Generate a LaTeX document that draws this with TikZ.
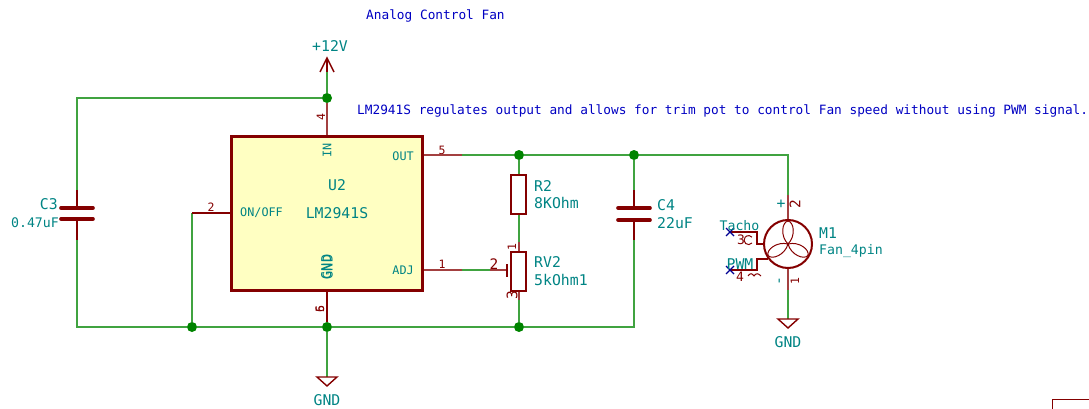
\documentclass[tikz,border=0pt]{standalone}
\usepackage{fontspec}
\setmainfont{DejaVu Sans Mono}
\usetikzlibrary{positioning}
\definecolor{wirecol}{HTML}{008400}
\definecolor{partcol}{HTML}{840000}
\definecolor{labelcol}{HTML}{008484}
\definecolor{notecol}{HTML}{0000C2}
\definecolor{bodycol}{HTML}{FFFFC2}
\tikzset{
    wire/.style = {draw=wirecol!75!white, line width=1.4pt},
    pin/.style = {draw=partcol!75!white, line width=1.4pt},
    part/.style = {draw=partcol, line width=2pt},
    dot/.style = {circle, fill=wirecol, inner sep=0pt, minimum size=10pt},
    label/.style = {text=labelcol, inner sep=0pt, font=\fontsize{14.8}{16}\selectfont},
    labelb/.style = {text=labelcol, inner sep=0pt, font=\fontsize{13.2}{15}\selectfont},
    pinname/.style = {text=labelcol, inner sep=0pt, font=\fontsize{11.8}{13}\selectfont},
    pinnum/.style = {text=partcol, inner sep=0pt, font=\fontsize{11.5}{13}\selectfont},
    pinnumb/.style = {text=partcol, inner sep=0pt, font=\fontsize{14.5}{16}\selectfont},
    note/.style = {text=notecol, inner sep=0pt, font=\fontsize{12.78}{14}\selectfont},
    plate/.style = {draw=partcol, line width=3.6pt, line cap=round},
    nc/.style = {draw=notecol!75!black, line width=1.2pt},
}
\begin{document}
\begin{tikzpicture}[x=1pt, y=-1pt]
    \useasboundingbox (0,0) rectangle (1089,409);

    % regulator
    \node (U2) at (326.5,213.5) [draw=partcol, line width=3pt, fill=bodycol, inner sep=0pt,
        minimum width=191pt, minimum height=153pt] {};
    \node (U2ref) at (337,185) [label] {U2};
    \node (U2val) at (337,213) [label] {LM2941S};
    \node (pinIN) at (327,150) [pinname, rotate=90] {IN};
    \node (pinOUT) at (414,156) [pinname, anchor=east] {OUT};
    \node (pinEN) at (240,213) [pinname, anchor=west] {ON/OFF};
    \node (pinADJ) at (414,270) [pinname, anchor=east] {ADJ};
    \node (pinGNDa) at (326.2,267) [pinname, rotate=90, font=\fontsize{13.5}{15}\selectfont] {GND};
    \node (pinGNDb) at (327.8,267) [pinname, rotate=90, font=\fontsize{13.5}{15}\selectfont] {GND};
    \node (num4) at (321,117) [pinnum, rotate=90] {4};
    \node (num5) at (442,150) [pinnum] {5};
    \node (num2) at (211,207) [pinnum] {2};
    \node (num1) at (442,264) [pinnum] {1};
    \node (num5b) at (320,309) [pinnum, rotate=90] {5};
    \node (num6) at (320,309) [pinnum, rotate=90] {6};

    % junctions
    \node (jTop) at (327,98) [dot] {};
    \node (jOut) at (519,155) [dot] {};
    \node (jCap) at (634,155) [dot] {};
    \node (jEn) at (192,327) [dot] {};
    \node (jGnd) at (327,327) [dot] {};
    \node (jPot) at (519,327) [dot] {};

    % named points on the wires
    \coordinate (pwrTip) at (327,58);
    \coordinate (pwrBase) at (327,72);
    \coordinate (gndTop) at (327,377);
    \coordinate (c3Top) at (77,208);
    \coordinate (c3Bot) at (77,219);
    \coordinate (c3Tl) at (77,98);
    \coordinate (c3Bl) at (77,327);
    \coordinate (c3a) at (77,190);
    \coordinate (c3b) at (77,240);
    \coordinate (c4Top) at (634,208);
    \coordinate (c4Bot) at (634,220);
    \coordinate (c4a) at (634,190);
    \coordinate (c4b) at (634,240);
    \coordinate (c4Br) at (634,327);
    \coordinate (outEnd) at (462,155);
    \coordinate (adjEnd) at (462,270);
    \coordinate (adjPin) at (490,270);
    \coordinate (adjTip) at (507,270);
    \coordinate (enTurn) at (192,213);
    \coordinate (fanTurn) at (788,155);
    \coordinate (fanPinT) at (788,195);
    \coordinate (fanPinB) at (788,290);
    \coordinate (fanGnd) at (788,319);
    \coordinate (rvTop) at (519,242);
    \coordinate (rvBot) at (519,300);

    % wiring
    \draw [wire] (jTop) -- (pwrBase);
    \draw [wire] (c3a) -- (c3Tl) -- (jTop);
    \draw [wire] (c3b) -- (c3Bl) -- (jEn) -- (jGnd) -- (jPot) -- (c4Br) -- (c4b);
    \draw [wire] (c4a) -- (jCap);
    \draw [wire] (outEnd) -- (jOut) -- (jCap) -- (fanTurn) -- (fanPinT);
    \draw [wire] (adjEnd) -- (adjPin);
    \draw [wire] (enTurn) -- (jEn);
    \draw [wire] (jGnd) -- (gndTop);
    \draw [wire] (fanPinB) -- (fanGnd);

    % pins of the regulator
    \draw [pin] (U2.north -| jTop) -- (jTop);
    \draw [pin, draw=partcol] (U2.south -| jGnd) -- (jGnd);
    \draw [pin] (U2.east |- outEnd) -- (outEnd);
    \draw [pin] (U2.east |- adjEnd) -- (adjEnd);
    \draw [pin, draw=partcol] (U2.west |- enTurn) -- (enTurn);

    % supply symbols
    \draw [pin, draw=partcol] (pwrBase) -- (pwrTip);
    \draw [pin, draw=partcol] (320,72) -- (pwrTip) -- (334,72);
    \node (pwrlab) at (330,46) [label] {+12V};
    \draw [pin, draw=partcol] (317,377) -- (337,377) -- (327,386) -- cycle;
    \node (gndlab) at (327,400) [label] {GND};
    \draw [pin, draw=partcol] (778,319) -- (798,319) -- (788,328) -- cycle;
    \node (gndlabb) at (788,342) [label] {GND};

    % C3
    \draw [plate] (61,208) -- (93,208);
    \draw [plate] (61,219) -- (93,219);
    \draw [pin, draw=partcol] (c3a) -- (c3Top);
    \draw [pin, draw=partcol] (c3Bot) -- (c3b);
    \node (C3ref) at (58,204) [label, anchor=east] {C3};
    \node (C3val) at (59,223) [labelb, anchor=east] {0.47uF};

    % C4
    \draw [plate] (618,208) -- (650,208);
    \draw [plate] (618,220) -- (650,220);
    \draw [pin, draw=partcol] (c4a) -- (c4Top);
    \draw [pin, draw=partcol] (c4Bot) -- (c4b);
    \node (C4ref) at (657,205) [label, anchor=west] {C4};
    \node (C4val) at (657,223) [label, anchor=west] {22uF};

    % R2
    \node (R2) at (518.5,194.5) [draw=partcol, line width=2pt, inner sep=0pt,
        minimum width=15pt, minimum height=39pt] {};
    \node (R2ref) at (534,186) [label, anchor=west] {R2};
    \node (R2val) at (534,203) [label, anchor=west] {8KOhm};
    \draw [wire] (jOut) -- (R2.north -| jOut);
    \draw [wire] (R2.south -| jOut) -- (rvTop);

    % RV2
    \node (RV2) at (518.5,271.5) [draw=partcol, line width=2pt, inner sep=0pt,
        minimum width=15pt, minimum height=39pt] {};
    \node (RV2ref) at (534,262) [label, anchor=west] {RV2};
    \node (RV2val) at (534,280) [label, anchor=west] {5kOhm1};
    \draw [pin] (rvTop) -- (RV2.north -| jPot);
    \draw [pin] (RV2.south -| jPot) -- (rvBot);
    \draw [wire] (rvBot) -- (jPot);
    \draw [pin] (adjPin) -- (adjTip);
    \draw [pin, draw=partcol] (507,264) -- (507,277);
    \node (rvnum1) at (512,247) [pinnum, rotate=90] {1};
    \node (rvnum2) at (494,264) [pinnumb] {2};
    \node (rvnum3) at (512,295) [pinnumb, rotate=90] {3};

    % fan
    \node (M1) at (788,244) [circle, draw=partcol, line width=2pt, inner sep=0pt, minimum size=48pt] {};
    \foreach \ang in {0,120,240} {
        \draw [partcol, line width=1pt, rotate around={\ang:(M1.center)}]
            (M1.center) .. controls (780,236) and (782,222) .. (788,221)
            .. controls (794,222) and (796,236) .. (M1.center);
    }
    \draw [pin] (fanPinT) -- (M1.north);
    \draw [pin] (M1.south) -- (fanPinB);
    \node (M1ref) at (819,233) [label, anchor=west] {M1};
    \node (M1val) at (819,251) [labelb, anchor=west] {Fan\_4pin};
    \node (fanPlus) at (781,204) [label] {+};
    \node (fanMinus) at (781,281) [label, rotate=90] {-};
    \node (fanNum2) at (795,204) [pinnumb, rotate=90] {2};
    \node (fanNum1) at (795,281) [pinnum, rotate=90] {1};

    \coordinate (tachoEnd) at (730,232);
    \coordinate (pwmEnd) at (730,270);
    \coordinate (fanPwm) at (767.5,259);
    \draw [pin, draw=partcol] (tachoEnd) -- (757,232) -- (757,244) -- (M1.west);
    \draw [pin, draw=partcol] (pwmEnd) -- (757,270) -- (757,259) -- (fanPwm);
    \draw [nc] (726,228) -- (734,236) (726,236) -- (734,228);
    \draw [nc] (726,266) -- (734,274) (726,274) -- (734,266);
    \node (tacholab) at (739.5,226) [labelb] {Tacho};
    \node (pwmlab) at (740,264) [label] {PWM};
    \node (fanNum3) at (741,240) [pinnum, font=\fontsize{13}{15}\selectfont] {3};
    \node (fanNum4) at (740,277) [pinnum, font=\fontsize{13}{15}\selectfont] {4};
    \draw [partcol, line width=1pt] (752,243) arc (40:320:4.5);
    \draw [partcol, line width=1pt] (748,276) .. controls (750,273) and (752,273) .. (754,276)
        .. controls (756,273) and (758,273) .. (761,276);

    % notes
    \node (title) at (366,16) [note, anchor=west] {Analog Control Fan};
    \node (remark) at (357,111) [note, anchor=west]
        {LM2941S regulates output and allows for trim pot to control Fan speed without using PWM signal.};

    % next sheet corner
    \draw [part, line width=1.3pt] (1052.5,409) -- (1052.5,399.5) -- (1089,399.5);
\end{tikzpicture}
\end{document}
